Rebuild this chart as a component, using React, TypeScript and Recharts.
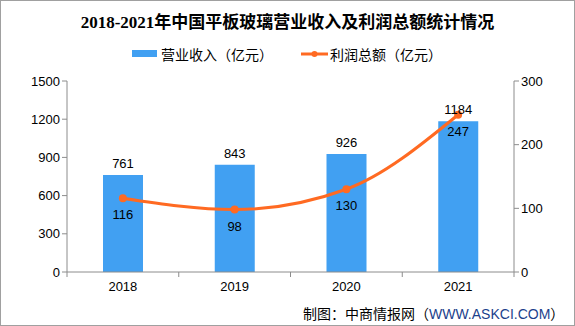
import {
  Bar,
  ComposedChart,
  LabelList,
  Line,
  XAxis,
  YAxis,
} from "recharts"

const years = ["2018", "2019", "2020", "2021"]
const revenue = [761, 843, 926, 1184]
const profit = [116, 98, 130, 247]
const leftTicks = [0, 300, 600, 900, 1200, 1500]
const rightTicks = [0, 100, 200, 300]

const title = "2018-2021年中国平板玻璃营业收入及利润总额统计情况"
const revenueName = "营业收入（亿元）"
const profitName = "利润总额（亿元）"

const data = years.map((year, i) => ({ year, revenue: revenue[i], profit: profit[i] }))

const BLUE = "#41A0F2"
const ORANGE = "#FF6A22"
const AXIS = "#8c8c8c"
const FONT = "'Liberation Sans', 'Noto Sans CJK SC', sans-serif"
const CJK = "'Noto Sans CJK SC', sans-serif"

function YearTick(props: any) {
  const { x, y, payload, index } = props
  const half = payload?.offset ?? 56
  return (
    <g>
      <line x1={x - half} y1={y - 8} x2={x - half} y2={y - 3} stroke={AXIS} />
      {index === years.length - 1 && (
        <line x1={x + half} y1={y - 8} x2={x + half} y2={y - 3} stroke={AXIS} />
      )}
      <text x={x} y={y + 11} textAnchor="middle" fill="#000" fontSize={13} fontFamily={FONT}>
        {payload.value}
      </text>
    </g>
  )
}

export default function App() {
  return (
    <div style={{ position: "absolute", left: 0, top: 0, width: 575, height: 326, background: "#fff" }}>
      <div
        style={{
          position: "absolute",
          left: 0,
          top: 0,
          width: 575,
          height: 326,
          boxSizing: "border-box",
          border: "1px solid #a0a0a0",
          pointerEvents: "none",
        }}
      />
      <div
        style={{
          position: "absolute",
          top: 10,
          left: 0,
          width: 575,
          textAlign: "center",
          fontFamily: "'Liberation Serif', 'Noto Sans CJK SC', serif",
          fontWeight: 700,
          fontSize: 17,
          lineHeight: "26px",
          color: "#000",
          whiteSpace: "nowrap",
        }}
      >
        {title}
      </div>
      <div style={{ position: "absolute", left: 132, top: 50, width: 25, height: 7, background: BLUE }} />
      <div
        style={{
          position: "absolute",
          left: 161,
          top: 44,
          fontFamily: CJK,
          fontSize: 14,
          lineHeight: "20px",
          color: "#000",
          whiteSpace: "nowrap",
        }}
      >
        {revenueName}
      </div>
      <svg width={27} height={10} style={{ position: "absolute", left: 301, top: 49 }}>
        <line x1={0} y1={5} x2={27} y2={5} stroke={ORANGE} strokeWidth={3} />
        <circle cx={13.5} cy={5} r={3} fill={ORANGE} />
      </svg>
      <div
        style={{
          position: "absolute",
          left: 330,
          top: 44,
          fontFamily: CJK,
          fontSize: 14,
          lineHeight: "20px",
          color: "#000",
          whiteSpace: "nowrap",
        }}
      >
        {profitName}
      </div>
      <ComposedChart
        width={575}
        height={326}
        data={data}
        margin={{ top: 81, right: 0, bottom: 24, left: 0 }}
        style={{ position: "absolute", left: 0, top: 0 }}
      >
        <XAxis
          dataKey="year"
          height={30}
          axisLine={{ stroke: AXIS }}
          tickLine={false}
          tick={<YearTick />}
        />
        <YAxis
          yAxisId="left"
          width={67}
          domain={[0, 1500]}
          ticks={leftTicks}
          axisLine={{ stroke: AXIS }}
          tickLine={{ stroke: AXIS }}
          tickSize={5}
          tick={{ fill: "#000", fontSize: 13, fontFamily: FONT }}
        />
        <YAxis
          yAxisId="right"
          orientation="right"
          width={61}
          domain={[0, 300]}
          ticks={rightTicks}
          axisLine={{ stroke: AXIS }}
          tickLine={{ stroke: AXIS }}
          tickSize={5}
          tick={{ fill: "#000", fontSize: 13, fontFamily: FONT }}
        />
        <Bar yAxisId="left" dataKey="revenue" fill={BLUE} barSize={40} isAnimationActive={false}>
          <LabelList dataKey="revenue" position="top" offset={7} fill="#000" fontSize={13} fontFamily={FONT} />
        </Bar>
        <Line
          yAxisId="right"
          type="monotone"
          dataKey="profit"
          stroke={ORANGE}
          strokeWidth={3}
          dot={{ r: 4, fill: ORANGE, stroke: ORANGE, strokeWidth: 0 }}
          activeDot={false}
          isAnimationActive={false}
        >
          <LabelList dataKey="profit" position="bottom" offset={12} fill="#000" fontSize={13} fontFamily={FONT} />
        </Line>
      </ComposedChart>
      <div
        style={{
          position: "absolute",
          left: 303,
          top: 303,
          fontFamily: CJK,
          fontSize: 14,
          color: "#000",
          whiteSpace: "nowrap",
        }}
      >
        制图：中商情报网（<span style={{ color: "#1c3f8c", fontFamily: "'Liberation Sans', sans-serif" }}>WWW.ASKCI.COM</span>）
      </div>
    </div>
  )
}
